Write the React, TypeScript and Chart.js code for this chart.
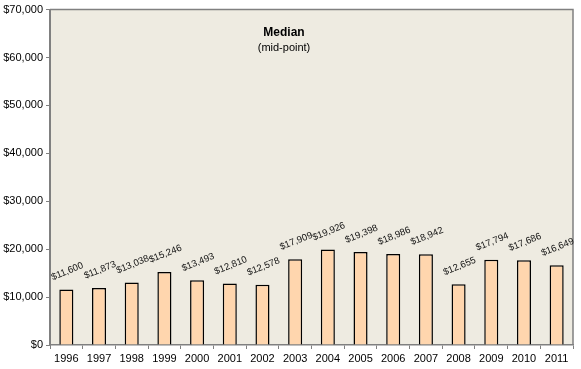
import React, { useEffect, useRef } from "react";
import { Chart, registerables } from "chart.js";

Chart.register(...registerables);

const years = ["1996", "1997", "1998", "1999", "2000", "2001", "2002", "2003", "2004", "2005", "2006", "2007", "2008", "2009", "2010", "2011"];
const medianValues = [11600, 11873, 13038, 15246, 13493, 12810, 12578, 17909, 19926, 19398, 18986, 18942, 12655, 17794, 17686, 16649];
const titleMain = "Median";
const titleSub = "(mid-point)";
const yMax = 70000;
const yStep = 10000;

const FONT = "'Liberation Sans', Arial, sans-serif";
const fmt = (v: number) => "$" + Number(v).toLocaleString("en-US");

const decorPlugin = {
  id: "decor",
  beforeDraw(chart: any) {
    const { ctx, chartArea } = chart;
    ctx.save();
    ctx.fillStyle = "#EEEBE1";
    ctx.fillRect(chartArea.left, chartArea.top, chartArea.right - chartArea.left, chartArea.bottom - chartArea.top);
    ctx.restore();
  },
  afterDraw(chart: any) {
    const { ctx, chartArea } = chart;
    ctx.save();
    ctx.strokeStyle = "#808080";
    ctx.lineWidth = 1.5;
    ctx.beginPath();
    ctx.moveTo(chartArea.left, chartArea.top);
    ctx.lineTo(chartArea.right, chartArea.top);
    ctx.lineTo(chartArea.right, chartArea.bottom);
    ctx.stroke();
    const cx = chartArea.left + 234;
    ctx.fillStyle = "#000";
    ctx.textAlign = "center";
    ctx.textBaseline = "middle";
    ctx.font = `bold 12px ${FONT}`;
    ctx.fillText(titleMain, cx, chartArea.top + 23);
    ctx.font = `11px ${FONT}`;
    ctx.fillText(titleSub, cx, chartArea.top + 38);
    const meta = chart.getDatasetMeta(0);
    ctx.font = `9.5px ${FONT}`;
    ctx.fillStyle = "#111";
    meta.data.forEach((bar: any, i: number) => {
      ctx.save();
      ctx.translate(bar.x + 1, bar.y - 18);
      ctx.rotate((-22 * Math.PI) / 180);
      ctx.fillText(fmt(medianValues[i]), 0, 0);
      ctx.restore();
    });
    ctx.restore();
  },
};

export default function App() {
  const ref = useRef<HTMLCanvasElement | null>(null);
  useEffect(() => {
    document.body.style.margin = "0";
    const chart = new Chart(ref.current as HTMLCanvasElement, {
      type: "bar",
      data: {
        labels: years,
        datasets: [
          {
            data: medianValues,
            backgroundColor: "#FFD6AE",
            borderColor: "#000000",
            borderWidth: 1.5,
            categoryPercentage: 1,
            barPercentage: 0.43,
          },
        ],
      },
      options: {
        animation: false,
        responsive: false,
        layout: { padding: { top: 8, right: 8, left: 0, bottom: 0 } },
        plugins: { legend: { display: false }, title: { display: false }, tooltip: { enabled: false } },
        scales: {
          x: {
            grid: { offset: true, drawOnChartArea: false, drawTicks: true, tickLength: 4, color: "#808080" },
            border: { color: "#808080", width: 1.5 },
            ticks: { color: "#000", font: { family: FONT, size: 11 }, padding: 3, maxRotation: 0 },
            afterFit(scale: any) {
              scale.height = 24;
            },
          },
          y: {
            min: 0,
            max: yMax,
            grid: { drawOnChartArea: false, drawTicks: true, tickLength: 4, color: "#808080" },
            border: { color: "#808080", width: 2 },
            ticks: {
              stepSize: yStep,
              color: "#000",
              font: { family: FONT, size: 11 },
              padding: 3,
              callback: (v: any) => fmt(v),
            },
            afterFit(scale: any) {
              scale.width = 50;
            },
          },
        },
      },
      plugins: [decorPlugin],
    } as any);
    return () => chart.destroy();
  }, []);
  return (
    <div style={{ width: 581, height: 369 }}>
      <canvas ref={ref} width={581} height={369} />
    </div>
  );
}
